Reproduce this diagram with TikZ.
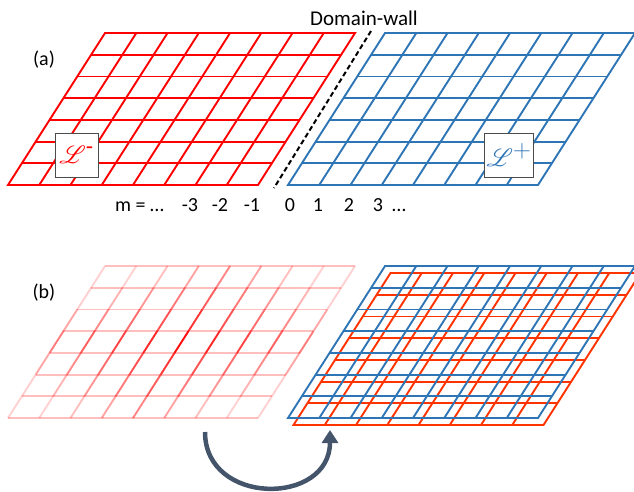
\documentclass[tikz,border=0pt]{standalone}
\usepackage{amsmath}
\usepackage{mathrsfs}
\usepackage{fontspec}
\setmainfont{Carlito}
\usepackage{tikz}
\usetikzlibrary{positioning,arrows.meta}

\definecolor{latred}{RGB}{255,0,0}
\definecolor{latblue}{RGB}{46,117,182}
\definecolor{latorange}{RGB}{255,51,0}
\definecolor{flipgray}{RGB}{68,84,106}

\tikzset{
  lattice/.pic={
    \begin{scope}[x={(31.25pt,0pt)},y={(13.86pt,21.71pt)}]
      \draw (0,0) -- (8,0) -- (8,7) -- (0,7) -- cycle;
      \foreach \r in {1,...,6} \draw (0,\r) -- (8,\r);
      \foreach \c in {1,...,7} \draw (\c,0) -- (\c,7);
    \end{scope}
  },
  fadedlattice/.pic={
    \begin{scope}[x={(31.25pt,0pt)},y={(13.86pt,21.71pt)}]
      \foreach \r in {0,...,7} \draw[opacity=0.25] (0,\r) -- (8,\r);
      \foreach \c in {0,...,8}
        \foreach \r in {0,...,6} {
          \pgfmathsetmacro\op{max(0.18,0.95-0.16*abs(\r-3)-0.11*abs(\c-4))}
          \draw[opacity=\op] (\c,\r) -- (\c,\r+1);
        }
    \end{scope}
  },
}

\begin{document}
\begin{tikzpicture}[
  x=1pt,y=-1pt,
  grid line/.style={line width=1.9pt},
  lbl/.style={font=\fontsize{20}{24}\selectfont,inner sep=0pt},
  lbox/.style={draw=black!70,line width=0.8pt,fill=white,minimum height=44pt,
    minimum width=43pt,inner sep=2pt,font=\fontsize{34}{40}\selectfont},
  wall/.style={line width=2pt,dash pattern=on 5pt off 3pt},
  flip/.style={line width=4.5pt,color=flipgray,-{Triangle[length=13pt,width=16pt]}},
]
\useasboundingbox (0,0) rectangle (634,491);

% (a) two domains
\pic[latred,grid line] at (8,185) {lattice};
\pic[latblue,grid line] at (288,185) {lattice};

\coordinate (dwtop) at (371,31);
\coordinate (dwbot) at (274,188);
\draw[wall] (dwtop) -- (dwbot);

\node[lbl] (a) at (44,60) {(a)};
\node[lbl,font=\fontsize{21}{25}\selectfont] (dw) at (364,18) {Domain-wall};
\node[lbox,text=latred] (lminus) at (76.5,155) {$\mathscr{L}^{\text{-}}$};
\node[lbox,text=latblue] (lplus) at (509,155) {$\mathscr{L}^{+}$};

\node[lbl,anchor=base west] (m) at (115,211) {m = …};
\foreach \v/\x in {-3/190,-2/220,-1/252,0/290,1/318,2/349,3/378}
  \node[lbl,anchor=base] (m\v) at (\x,211) {\v};
\node[lbl,anchor=base] (mdots) at (399,211) {…};

% (b) folded
\node[lbl] (b) at (44,293) {(b)};
\pic[latred,grid line] at (8,418) {fadedlattice};
\pic[latorange,grid line] at (293.5,425) {lattice};
\pic[latblue,grid line] at (288,418) {lattice};

\coordinate (flipstart) at (205,432);
\coordinate (flipend) at (330,430);
\draw[flip] (flipstart) .. controls (205,506) and (330,506) .. (flipend);
\end{tikzpicture}
\end{document}
